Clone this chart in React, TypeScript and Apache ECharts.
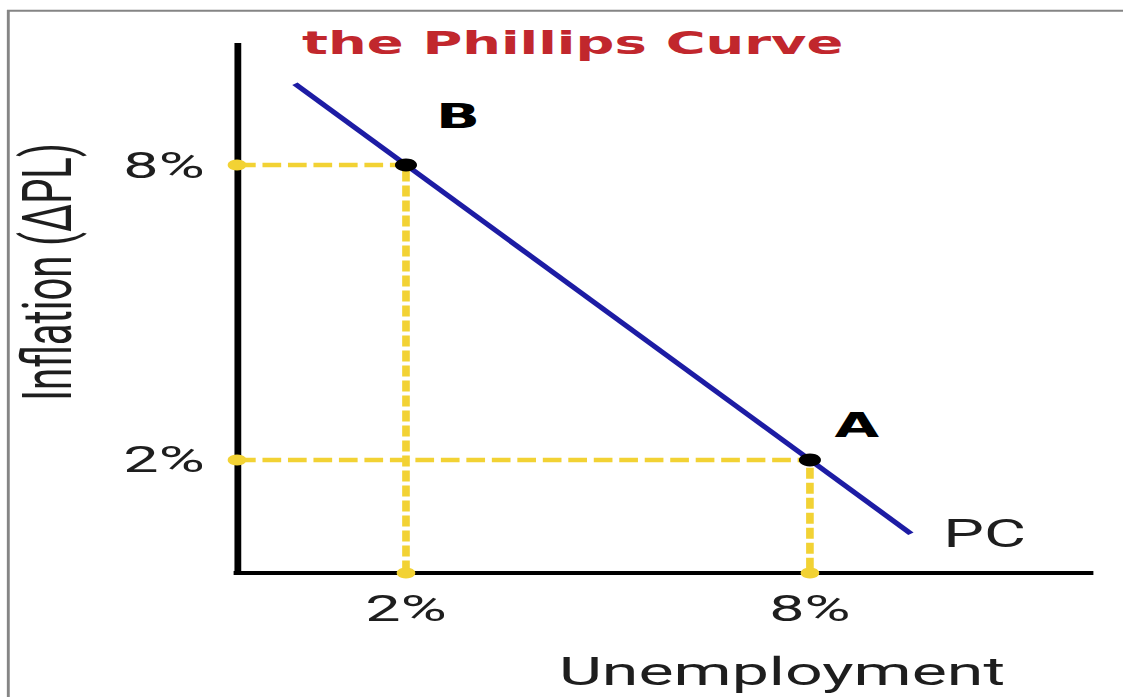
import React, { useEffect, useRef } from "react";
import * as echarts from "echarts";

// The drawing is laid out on a narrow canvas and widened with a CSS scaleX,
// which gives the broad, stretched look of the classroom diagram.
const PAGE_W = 1123;
const PAGE_H = 697;
const CANVAS_W = 661;
const STRETCH = PAGE_W / CANVAS_W;
const sx = (x: number) => x / STRETCH; // page x -> canvas x

// Axis ranges (unemployment %, inflation %)
const xRange = [-0.51, 12.16];
const yRange = [-0.3, 10.44];

// Tick values shown on each axis
const xTicks = [2, 8];
const yTicks = [2, 8];

// The Phillips curve: start and end of the straight line
const pcX = [0.35, 9.5];
const pcY = [9.65, 0.5];

// Marked points on the curve
const pointNames = ["B", "A"];
const pointX = [2, 8];
const pointY = [8, 2];
const pointLabelOffsets: [number, number][] = [
  [30.6, -49],
  [27.6, -35],
];

const YELLOW = "#f2d234";
const BLUE = "#1d1ca4";
const TEXT = "#1e1e1e";

export default function App() {
  const ref = useRef<HTMLDivElement>(null);

  useEffect(() => {
    if (!ref.current) return;
    const chart = echarts.init(ref.current, undefined, { renderer: "svg" });

    const guideSeries = pointX.map((x, i) => ({
      type: "line",
      name: "guide " + pointNames[i],
      data: [
        { value: [xRange[0], pointY[i]], symbolSize: 11 },
        { value: [x, pointY[i]], symbolSize: 0 },
        { value: [x, yRange[0]], symbolSize: 11 },
      ],
      symbol: "circle",
      showSymbol: true,
      showAllSymbol: true,
      lineStyle: { color: YELLOW, width: 4.5, type: [11, 4] },
      itemStyle: { color: YELLOW, opacity: 1 },
      clip: false,
      silent: true,
      z: 2,
    }));

    const option = {
      animation: false,
      backgroundColor: "#ffffff",
      title: {
        text: "the Phillips Curve",
        left: sx(302) - 5,
        top: 22,
        textStyle: {
          color: "#c1272d",
          fontSize: 32,
          fontWeight: "bold",
          fontFamily: "DejaVu Sans",
        },
      },
      grid: {
        left: sx(237),
        right: CANVAS_W - sx(1090),
        top: 45,
        bottom: PAGE_H - 573,
        containLabel: false,
      },
      xAxis: {
        type: "value",
        min: xRange[0],
        max: xRange[1],
        axisLine: {
          onZero: false,
          lineStyle: { color: "#000000", width: 4, cap: "square" },
        },
        axisTick: { show: false },
        splitLine: { show: false },
        axisLabel: {
          customValues: xTicks,
          formatter: (v: number) => v + "%",
          margin: 17,
          fontSize: 37,
          fontFamily: "Roboto",
          color: TEXT,
        },
      },
      yAxis: {
        type: "value",
        min: yRange[0],
        max: yRange[1],
        axisLine: {
          onZero: false,
          lineStyle: { color: "#000000", width: 4, cap: "square" },
        },
        axisTick: { show: false },
        splitLine: { show: false },
        axisLabel: {
          customValues: yTicks,
          formatter: (v: number) => v + "%",
          margin: 19,
          fontSize: 37,
          fontFamily: "Roboto",
          color: TEXT,
        },
      },
      series: [
        ...guideSeries,
        {
          type: "line",
          name: "PC",
          data: pcX.map((x, i) =>
            i === pcX.length - 1
              ? {
                  value: [x, pcY[i]],
                  label: {
                    show: true,
                    position: "right",
                    distance: 19,
                    formatter: "PC",
                    fontSize: 38,
                    fontFamily: "Roboto",
                    color: TEXT,
                  },
                }
              : { value: [x, pcY[i]] }
          ),
          symbol: "circle",
          symbolSize: 0,
          showSymbol: true,
          lineStyle: { color: BLUE, width: 4 },
          itemStyle: { color: BLUE },
          clip: false,
          silent: true,
          z: 3,
        },
        {
          type: "scatter",
          name: "points",
          data: pointX.map((x, i) => ({
            value: [x, pointY[i]],
            name: pointNames[i],
            label: { offset: pointLabelOffsets[i] },
          })),
          symbol: "circle",
          symbolSize: 13,
          itemStyle: { color: "#000000", opacity: 1 },
          label: {
            show: true,
            position: "inside",
            formatter: "{b}",
            fontSize: 34,
            fontWeight: "bold",
            fontFamily: "DejaVu Sans",
            color: "#000000",
            textBorderWidth: 0,
            textBorderColor: "transparent",
          },
          clip: false,
          silent: true,
          z: 4,
        },
      ],
      graphic: [
        {
          type: "line",
          shape: { x1: sx(7), y1: 10.7, x2: CANVAS_W, y2: 10.7 },
          style: { stroke: "#858585", lineWidth: 2 },
          silent: true,
        },
        {
          type: "line",
          shape: { x1: sx(8.3), y1: 10, x2: sx(8.3), y2: PAGE_H },
          style: { stroke: "#858585", lineWidth: 1.7 },
          silent: true,
        },
        {
          type: "text",
          x: sx(782),
          y: 672,
          style: {
            text: "Unemployment",
            fontSize: 39,
            fontFamily: "Roboto",
            fill: TEXT,
            align: "center",
            verticalAlign: "middle",
          },
          silent: true,
        },
        {
          type: "text",
          x: sx(47.5),
          y: 272,
          rotation: Math.PI / 2,
          style: {
            text: "Inflation (ΔPL)",
            fontSize: 40,
            fontFamily: "Roboto",
            fill: TEXT,
            align: "center",
            verticalAlign: "middle",
          },
          silent: true,
        },
      ],
    };

    chart.setOption(option as any);
    return () => chart.dispose();
  }, []);

  return (
    <div
      style={{
        position: "fixed",
        left: 0,
        top: 0,
        width: PAGE_W,
        height: PAGE_H,
        overflow: "hidden",
        background: "#ffffff",
      }}
    >
      <div
        ref={ref}
        style={{
          width: CANVAS_W,
          height: PAGE_H,
          transform: `scaleX(${STRETCH})`,
          transformOrigin: "0 0",
        }}
      />
    </div>
  );
}
